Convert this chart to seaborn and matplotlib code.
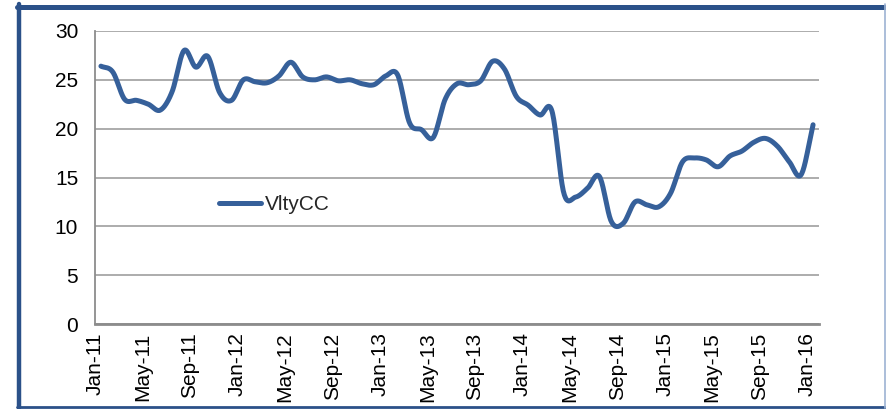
import numpy as np
import pandas as pd
import matplotlib
matplotlib.use("Agg")
import matplotlib.pyplot as plt
from matplotlib.lines import Line2D
import seaborn as sns

# ---- data (monthly, Jan-11 .. Jan-16) ----
months = pd.date_range("2011-01-01", "2016-01-01", freq="MS")
series_name = "VltyCC"
values = [26.4, 25.8, 23.0, 22.9, 22.5, 21.9, 23.8, 28.0, 26.3, 27.4,
          23.7, 22.9, 25.0, 24.8, 24.7, 25.4, 26.8, 25.3, 25.0, 25.3,
          24.9, 25.0, 24.6, 24.5, 25.4, 25.5, 20.6, 19.9, 19.1, 23.0,
          24.6, 24.5, 24.9, 26.9, 26.1, 23.3, 22.4, 21.4, 21.8, 13.4,
          13.0, 13.9, 15.1, 10.5, 10.3, 12.5, 12.2, 12.0, 13.4, 16.6,
          17.0, 16.8, 16.1, 17.2, 17.7, 18.6, 19.0, 18.2, 16.6, 15.3,
          20.4]
tick_every = 4
y_ticks = [0, 5, 10, 15, 20, 25, 30]

labels = [d.strftime("%b-%y") for d in months]

# ---- smoothed line (Catmull-Rom through the data points, like Excel smoothing) ----
def catmull_rom(x, y, n=20):
    x = np.asarray(x, float); y = np.asarray(y, float)
    px = np.concatenate([[2 * x[0] - x[1]], x, [2 * x[-1] - x[-2]]])
    py = np.concatenate([[2 * y[0] - y[1]], y, [2 * y[-1] - y[-2]]])
    xs, ys = [], []
    t = np.linspace(0, 1, n, endpoint=False)
    for i in range(1, len(px) - 2):
        def cr(a0, a1, a2, a3):
            return 0.5 * ((2 * a1) + (-a0 + a2) * t + (2 * a0 - 5 * a1 + 4 * a2 - a3) * t ** 2
                          + (-a0 + 3 * a1 - 3 * a2 + a3) * t ** 3)
        xs.append(cr(px[i - 1], px[i], px[i + 1], px[i + 2]))
        ys.append(cr(py[i - 1], py[i], py[i + 1], py[i + 2]))
    xs.append([x[-1]]); ys.append([y[-1]])
    return np.concatenate(xs), np.concatenate(ys)

idx = np.arange(len(values))
sx, sy = catmull_rom(idx, values)
df = pd.DataFrame({"x": sx, "y": sy, "series": series_name})

# ---- figure ----
sns.set_style("white")
plt.rcParams["font.family"] = ["Liberation Sans", "DejaVu Sans"]

W, H = 887, 409
FS = 15
fig = plt.figure(figsize=(W / 100, H / 100), dpi=100)
ax = fig.add_axes([95 / W, 1 - 324 / H, (819 - 95) / W, (324 - 31) / H])

line_color = "#36609A"
sns.lineplot(data=df, x="x", y="y", ax=ax, color=line_color, linewidth=3.6,
             sort=False, estimator=None, legend=False)
for l in ax.get_lines():
    l.set_solid_capstyle("round")
    l.set_solid_joinstyle("round")

ax.set_xlim(-0.5, len(values) - 0.5)
ax.set_ylim(0, 30)
ax.set_yticks(y_ticks)
ax.set_yticklabels([str(v) for v in y_ticks], fontsize=FS)
tick_pos = [i - 0.5 for i in range(0, len(values), tick_every)]
ax.set_xticks(tick_pos)
ax.set_xticklabels([labels[i] for i in range(0, len(values), tick_every)],
                   rotation=90, fontsize=FS)
ax.set_xlabel("")
ax.set_ylabel("")

ax.yaxis.grid(True, color="#A6A6A6", linewidth=1.3)
ax.xaxis.grid(False)
ax.set_axisbelow(True)
for s in ["top", "right"]:
    ax.spines[s].set_visible(False)
ax.spines["left"].set_color("#8C8C8C")
ax.spines["left"].set_linewidth(1.3)
ax.spines["bottom"].set_color("#8C8C8C")
ax.spines["bottom"].set_linewidth(2.0)
ax.tick_params(axis="both", which="major", direction="out", length=3.6,
               width=1.1, color="#8C8C8C", labelcolor="black")
ax.tick_params(axis="y", pad=8.5)
ax.tick_params(axis="x", pad=2.5)

handle = Line2D([0], [0], color=line_color, linewidth=3.6, solid_capstyle="round")
fig.legend([handle], [series_name], loc="center left",
           bbox_to_anchor=(219 / W, 1 - 205 / H), frameon=False, fontsize=FS,
           handlelength=2.0, handletextpad=0.2, borderpad=0, borderaxespad=0)

# ---- outer frame ----
frame_col = "#2B5189"
def fx(px): return px / W
def fy(py): return 1 - py / H
fig.add_artist(Line2D([fx(19), fx(19)], [fy(4), fy(408)], color=frame_col, linewidth=3.2,
                      transform=fig.transFigure))
fig.add_artist(Line2D([fx(17), fx(887)], [fy(6.5), fy(6.5)], color=frame_col, linewidth=3.6,
                      transform=fig.transFigure))
fig.add_artist(Line2D([fx(17), fx(887)], [fy(407), fy(407)], color=frame_col, linewidth=2.0,
                      transform=fig.transFigure))
fig.add_artist(Line2D([fx(885.5), fx(885.5)], [fy(4), fy(408)], color="#9DB3D3", linewidth=1.2,
                      transform=fig.transFigure))

fig.savefig("out.png", dpi=100)
